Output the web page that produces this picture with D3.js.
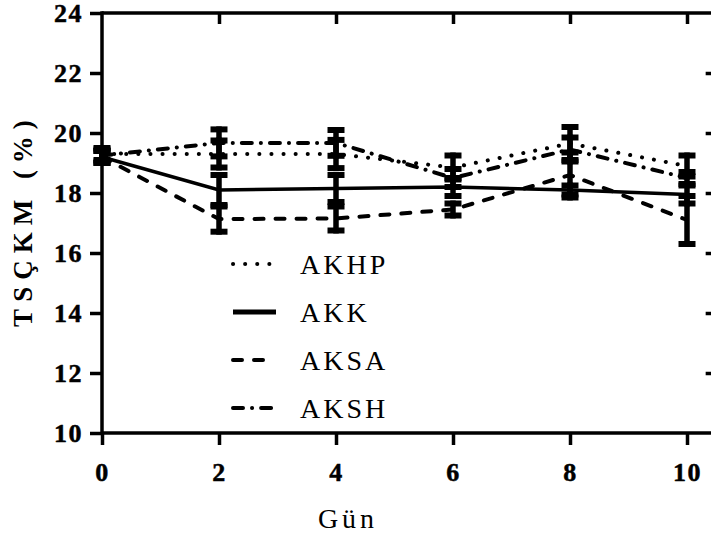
<!DOCTYPE html>
<html><head><meta charset="utf-8">
<script src="https://cdn.jsdelivr.net/npm/d3@7"></script>
<style>html,body{margin:0;padding:0;background:#fff;}svg{display:block;}</style>
</head><body>
<script>
const days = [0, 2, 4, 6, 8, 10];
const seriesNames = ["AKHP", "AKK", "AKSA", "AKSH"];
const AKHP = [19.3, 19.3, 19.3, 18.85, 19.65, 18.9];
const AKK  = [19.2, 18.1, 18.15, 18.2, 18.1, 17.95];
const AKSA = [19.2, 17.13, 17.15, 17.45, 18.6, 17.1];
const AKSH = [19.25, 19.67, 19.67, 18.5, 19.45, 18.5];
const AKHP_sd = [0.2, 0.45, 0.47, 0.4, 0.55, 0.35];
const AKK_sd  = [0.2, 0.5, 0.45, 0.3, 0.15, 0.3];
const AKSA_sd = [0.2, 0.42, 0.4, 0.2, 0.75, 0.8];
const AKSH_sd = [0.2, 0.45, 0.43, 0.3, 0.4, 0.2];
const yTicks = [10, 12, 14, 16, 18, 20, 22, 24];
const xTicks = [0, 2, 4, 6, 8, 10];
const xTitle = "Gün";
const yTitle = "TSÇKM (%)";

const values = {AKHP, AKK, AKSA, AKSH};
const sds = {AKHP: AKHP_sd, AKK: AKK_sd, AKSA: AKSA_sd, AKSH: AKSH_sd};
const dash = {AKHP: "0.1 12", AKK: null, AKSA: "9 12", AKSH: "10 9 0.1 9"};
const widths = {AKHP: 4, AKK: 3.5, AKSA: 4, AKSH: 4};

const W = 711, H = 534;
const svg = d3.select("body").append("svg").attr("width", W).attr("height", H);
const x = d3.scaleLinear().domain([0, 10]).range([102, 687]);
const y = d3.scaleLinear().domain([10, 24]).range([433, 13]);
const xRight = x(10.49);
const font = "'Liberation Serif', 'Times New Roman', serif";

const axL = svg.append("g").attr("transform", `translate(${x(0)},0)`)
  .call(d3.axisLeft(y).tickValues(yTicks).tickSize(12).tickFormat(d3.format("d")).tickPadding(7));
const axB = svg.append("g").attr("transform", `translate(0,${y(10)})`)
  .call(d3.axisBottom(x).tickValues(xTicks).tickSize(12).tickFormat(d3.format("d")).tickPadding(18));
const axT = svg.append("g").attr("transform", `translate(0,${y(24)})`)
  .call(d3.axisBottom(x).tickValues(xTicks.slice(1)).tickSize(11).tickFormat(""));
const axR = svg.append("g").attr("transform", `translate(${xRight},0)`)
  .call(d3.axisLeft(y).tickValues(yTicks.slice(1, -1)).tickSize(10).tickFormat(""));
[axL, axB, axT, axR].forEach(g => {
  g.attr("font-family", null).attr("font-size", null);
  g.select(".domain").remove();
  g.selectAll(".tick line").attr("stroke", "#000").attr("stroke-width", 3.5);
  g.selectAll("text").attr("style", `font-family:${font};font-weight:bold;font-size:26px;letter-spacing:1.5px`)
    .attr("fill", "#000").attr("stroke", "#000").attr("stroke-width", 0.5);
});
axL.selectAll("text").attr("dy", "0.32em");

svg.append("line").attr("x1", x(0)).attr("x2", x(0)).attr("y1", y(24) - 1.75).attr("y2", y(10) + 1.75)
  .attr("stroke", "#000").attr("stroke-width", 3.5);
[y(10), y(24)].forEach(yy => svg.append("line").attr("x1", x(0)).attr("x2", xRight)
  .attr("y1", yy).attr("y2", yy).attr("stroke", "#000").attr("stroke-width", 3.5));
svg.append("line").attr("x1", xRight).attr("x2", xRight).attr("y1", y(24)).attr("y2", y(10))
  .attr("stroke", "#000").attr("stroke-width", 3.5);

// Error bars
const capW = 8.5;
seriesNames.forEach(name => {
  const g = svg.append("g");
  days.forEach((d, i) => {
    const v = values[name][i], s = sds[name][i];
    const cx = x(d), y1 = y(v + s), y2 = y(v - s);
    g.append("line").attr("x1", cx).attr("x2", cx).attr("y1", y1 - 3).attr("y2", y2 + 3)
      .attr("stroke", "#000").attr("stroke-width", 5.5);
    [y1, y2].forEach(yy => g.append("line").attr("x1", cx - capW).attr("x2", cx + capW)
      .attr("y1", yy).attr("y2", yy).attr("stroke", "#000").attr("stroke-width", 6));
  });
});

const line = d3.line().x(d => x(d[0])).y(d => y(d[1]));
seriesNames.forEach(name => {
  const p = svg.append("path").datum(days.map((d, i) => [d, values[name][i]]))
    .attr("d", line).attr("fill", "none").attr("stroke", "#000")
    .attr("stroke-width", widths[name]).attr("stroke-linecap", dash[name] ? "round" : "butt");
  if (dash[name]) p.attr("stroke-dasharray", dash[name]);
});

// Legend
const legY = [264, 312, 360, 408];
seriesNames.forEach((name, i) => {
  const ly = legY[i];
  const p = svg.append("line").attr("x1", 233).attr("x2", name === "AKK" ? 276 : 272)
    .attr("y1", ly).attr("y2", ly).attr("stroke", "#000")
    .attr("stroke-width", name === "AKK" ? 5 : 4).attr("stroke-linecap", dash[name] ? "round" : "butt");
  if (dash[name]) p.attr("stroke-dasharray", dash[name]);
  svg.append("text").attr("x", 300).attr("y", ly + 10).text(name)
    .attr("style", `font-family:${font};font-size:28px;letter-spacing:3px`).attr("fill", "#000");
});

svg.append("text").attr("x", 348).attr("y", 528).attr("text-anchor", "middle").text(xTitle)
  .attr("style", `font-family:${font};font-size:28px;letter-spacing:4px`).attr("fill", "#000");
svg.append("text").attr("transform", "translate(32,220) rotate(-90)").attr("text-anchor", "middle")
  .text(yTitle).attr("style", `font-family:${font};font-weight:bold;font-size:27px;letter-spacing:7px`)
  .attr("fill", "#000");
</script>
</body></html>
